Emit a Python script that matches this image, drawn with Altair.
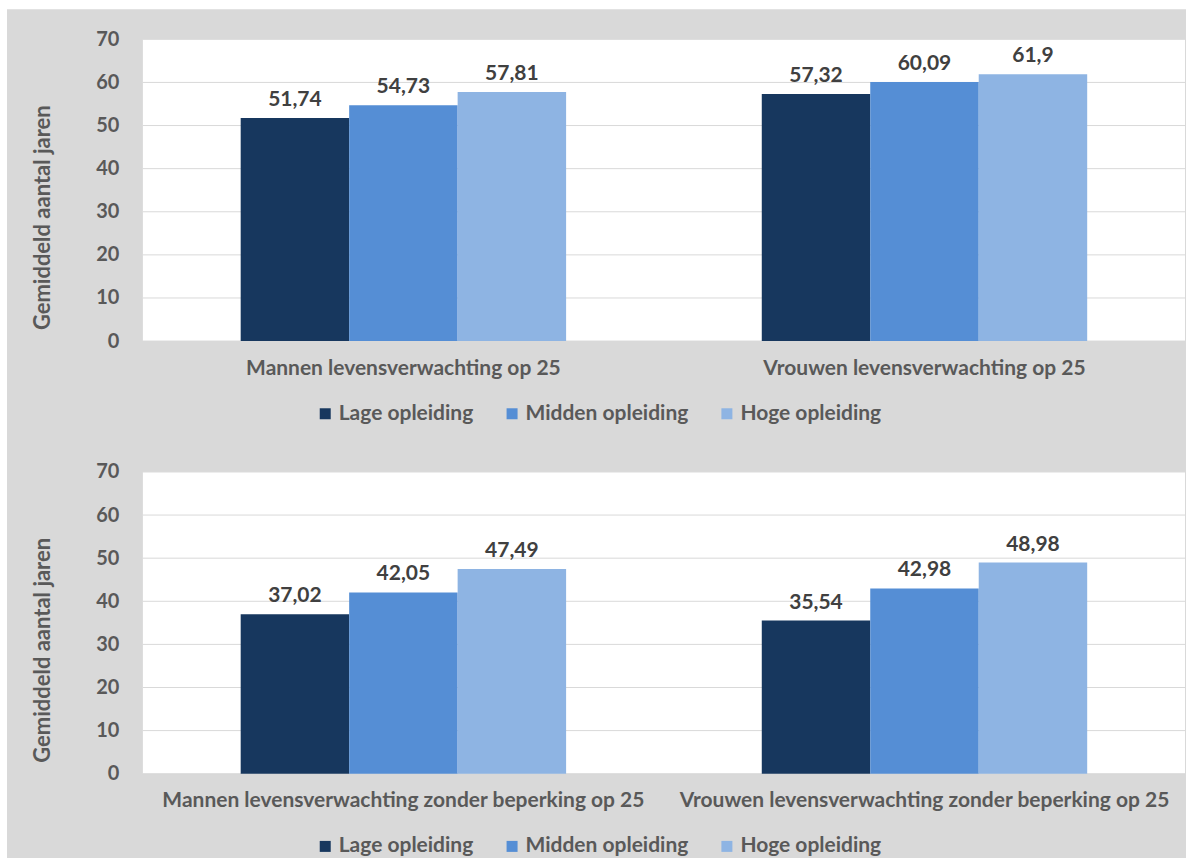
import altair as alt
import pandas as pd

# Opleidingsniveaus en hun kleuren
opleiding = ["Lage opleiding", "Midden opleiding", "Hoge opleiding"]
kleuren = ["#17375E", "#558ED5", "#8EB4E3"]

# Bovenste grafiek: levensverwachting op 25
boven_categorieen = ["Mannen levensverwachting op 25", "Vrouwen levensverwachting op 25"]
boven_lage = [51.74, 57.32]
boven_midden = [54.73, 60.09]
boven_hoge = [57.81, 61.9]

# Onderste grafiek: levensverwachting zonder beperking op 25
onder_categorieen = [
    "Mannen levensverwachting zonder beperking op 25",
    "Vrouwen levensverwachting zonder beperking op 25",
]
onder_lage = [37.02, 35.54]
onder_midden = [42.05, 42.98]
onder_hoge = [47.49, 48.98]

y_ticks = [0, 10, 20, 30, 40, 50, 60, 70]

W, H = 1043, 302
FONT = "Lato"
GRIJS_TEKST = "#595959"
ACHTERGROND = "#D9D9D9"


def tabel(categorieen, lage, midden, hoge):
    rijen = []
    for niveau, reeks in zip(opleiding, [lage, midden, hoge]):
        for cat, w in zip(categorieen, reeks):
            rijen.append({"categorie": cat, "opleiding": niveau, "waarde": w})
    return pd.DataFrame(rijen)


def paneel(categorieen, lage, midden, hoge, met_achtergrond):
    df = tabel(categorieen, lage, midden, hoge)

    basis = alt.Chart(df).encode(
        x=alt.X(
            "categorie:N",
            sort=categorieen,
            scale=alt.Scale(paddingInner=0.3755, paddingOuter=0.1877),
            axis=alt.Axis(
                title=None, labelAngle=0, ticks=False, domain=False,
                labelPadding=16, labelLimit=0, zindex=1,
                labelFont=FONT, labelFontSize=21, labelFontWeight="bold",
                labelColor=GRIJS_TEKST,
            ),
        ),
        xOffset=alt.XOffset("opleiding:N", sort=opleiding,
                            scale=alt.Scale(paddingInner=0, paddingOuter=0)),
        y=alt.Y(
            "waarde:Q",
            scale=alt.Scale(domain=[0, 70], nice=False),
            axis=alt.Axis(
                values=y_ticks, title="Gemiddeld aantal jaren", grid=False,
                ticks=False, domain=False, labelPadding=24, zindex=1,
                labelFont=FONT, labelFontSize=20, labelFontWeight="bold",
                labelColor=GRIJS_TEKST,
                titleFont=FONT, titleFontSize=22, titleFontWeight="bold",
                titleColor=GRIJS_TEKST, titleX=-100, titleY=178,
                titleAngle=270, titleAlign="center", titleBaseline="middle",
            ),
        ),
    )

    balken = basis.mark_bar().encode(
        color=alt.Color(
            "opleiding:N",
            sort=opleiding,
            scale=alt.Scale(domain=opleiding, range=kleuren),
            legend=alt.Legend(
                title=None, orient="none", legendX=172, legendY=364,
                direction="horizontal", symbolType="square", symbolSize=121,
                symbolStrokeWidth=0, symbolOpacity=1,
                labelFont=FONT, labelFontSize=21, labelFontWeight="bold",
                labelColor=GRIJS_TEKST, labelOffset=3, columnPadding=28,
                padding=0, labelLimit=0,
            ),
        )
    )

    labels = basis.transform_calculate(
        label="replace(toString(datum.waarde), '.', ',')"
    ).mark_text(
        baseline="bottom", dy=-8, font=FONT, fontSize=21,
        fontWeight="bold", color="#404040",
    ).encode(text="label:N")

    leeg = alt.Data(values=[{}])
    wit = alt.Chart(leeg).mark_rect(color="white").encode(
        x=alt.value(0), x2=alt.value(W), y=alt.value(0), y2=alt.value(H)
    )
    raster = alt.Chart(pd.DataFrame({"waarde": y_ticks})).mark_rule(
        color="#D9D9D9", strokeWidth=1
    ).encode(y="waarde:Q", x=alt.value(0), x2=alt.value(W))

    lagen = [wit, raster, balken, labels]
    if met_achtergrond:
        grijs = alt.Chart(leeg).mark_rect(color=ACHTERGROND).encode(
            x=alt.value(-136), x2=alt.value(W + 1),
            y=alt.value(-30), y2=alt.value(820),
        )
        lagen = [grijs] + lagen

    return alt.layer(*lagen).properties(width=W, height=H)


boven = paneel(boven_categorieen, boven_lage, boven_midden, boven_hoge, True)
onder = paneel(onder_categorieen, onder_lage, onder_midden, onder_hoge, False)

chart = (
    alt.vconcat(boven, onder, spacing=131, bounds="flush")
    .resolve_scale(x="independent", y="independent", color="shared")
    .resolve_legend(color="independent")
    .properties(padding={"left": 6, "top": 8, "right": 0, "bottom": 0})
    .configure(background="white")
    .configure_view(stroke="transparent")
)

chart.save("out.html", embed_options={"renderer": "svg", "actions": False})
